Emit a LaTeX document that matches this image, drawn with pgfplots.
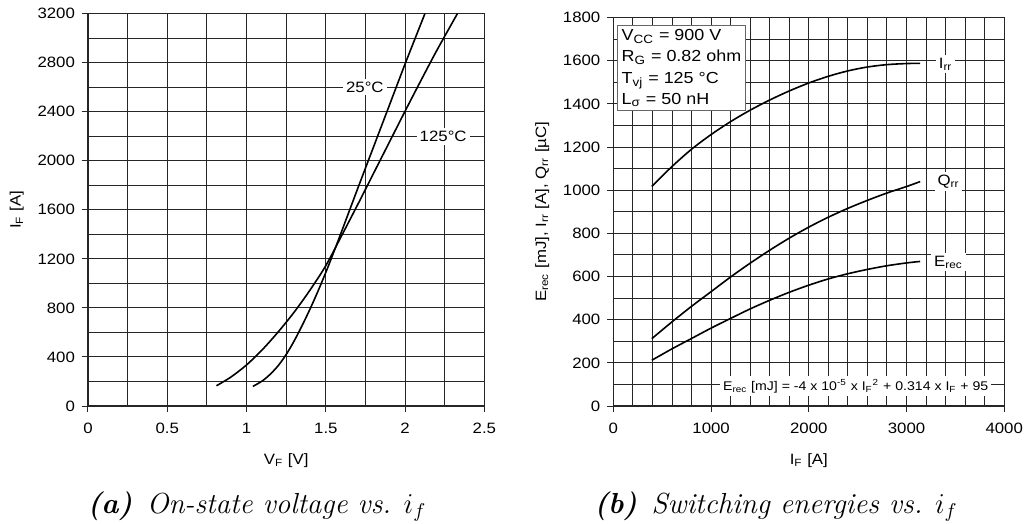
\documentclass[border=0pt]{standalone}
\usepackage{fontspec}
\usepackage{pgfplots}
\pgfplotsset{compat=1.18}
\newfontfamily\arial[FakeStretch=1.12]{Liberation Sans}
\newcommand{\sub}[1]{\textsubscript{#1}}
\newcommand{\sups}[1]{\textsuperscript{#1}}

% shared datasheet look: dense dark grid, outside ticks, Arial-like text
\pgfplotsset{
  datasheet/.style={
    scale only axis,
    tick align=outside, tick pos=left,
    major tick length=3pt, minor tick length=0pt,
    grid=both,
    major grid style={black!85, line width=0.5pt},
    minor grid style={black!85, line width=0.5pt},
    axis line style={black!85, line width=0.7pt},
    tick style={black!85, line width=0.5pt},
    ticklabel style={font=\arial\fontsize{7.5}{9}\selectfont},
    xticklabel style={yshift=-2pt},
    label style={font=\arial\fontsize{7.5}{9}\selectfont},
    xlabel style={yshift=-3pt},
    /pgf/number format/assume math mode=true,
    /pgf/number format/1000 sep={},
  },
  curve/.style={black, line width=0.8pt, smooth, mark=none},
}
\tikzset{lbl/.style={fill=white, inner sep=1.5pt, font=\arial\fontsize{7.5}{9}\selectfont}}

\begin{document}
\begin{tikzpicture}

% (a) forward characteristic
\begin{axis}[datasheet,
  at={(0pt,0pt)}, anchor=south west,
  width=198.2pt, height=196.2pt,
  xmin=0, xmax=2.5, ymin=0, ymax=3200,
  xtick={0,0.5,1,1.5,2,2.5},
  minor xtick={0.25,0.75,1.25,1.75,2.25},
  ytick={0,400,800,1200,1600,2000,2400,2800,3200},
  minor ytick={200,600,1000,1400,1800,2200,2600,3000},
  xlabel={V\sub{F} [V]}, ylabel={I\sub{F} [A]},
]
% 25 C
\addplot[curve] coordinates {
  (1.04,160) (1.10,205) (1.15,260) (1.20,330) (1.25,420) (1.30,530)
  (1.35,655) (1.40,790) (1.45,935) (1.50,1090) (1.55,1255) (1.60,1425)
  (1.70,1770) (1.80,2110) (1.90,2450) (2.00,2790) (2.125,3200)
};
% 125 C
\addplot[curve] coordinates {
  (0.81,165) (0.90,235) (1.00,335) (1.10,460) (1.20,605) (1.30,765)
  (1.40,945) (1.50,1145) (1.60,1390) (1.70,1640) (1.80,1895) (1.90,2150)
  (2.00,2405) (2.10,2655) (2.20,2900) (2.33,3200)
};
\node[lbl] at (axis cs:1.746,2600) {25°C};
\node[lbl] at (axis cs:2.24,2200) {125°C};
\end{axis}

% (b) reverse recovery vs forward current
\begin{axis}[datasheet,
  at={(262.7pt,0pt)}, anchor=south west,
  width=195.4pt, height=194.2pt,
  xmin=0, xmax=4000, ymin=0, ymax=1800,
  xtick={0,1000,2000,3000,4000}, minor x tick num=4,
  ytick={0,200,400,600,800,1000,1200,1400,1600,1800}, minor y tick num=1,
  xlabel={I\sub{F} [A]},
  ylabel={E\sub{rec} [mJ], I\sub{rr} [A], Q\sub{rr} [µC]},
]
% Irr
\addplot[curve] coordinates {
  (393,1018) (600,1110) (800,1190) (1000,1258) (1200,1318) (1400,1371)
  (1600,1418) (1800,1460) (2000,1497) (2200,1528) (2400,1553) (2600,1571)
  (2800,1582) (3000,1587) (3140,1588)
};
% Qrr
\addplot[curve] coordinates {
  (393,312) (600,390) (800,462) (1000,530) (1200,598) (1400,662) (1600,722)
  (1800,778) (2000,829) (2200,875) (2400,916) (2600,953) (2800,987)
  (3000,1017) (3140,1040)
};
% Erec
\addplot[curve] coordinates {
  (393,212) (600,265) (800,313) (1000,361) (1200,406) (1400,450) (1600,490)
  (1800,527) (2000,560) (2200,589) (2400,613) (2600,633) (2800,650)
  (3000,663) (3140,670)
};
\node[lbl] at (axis cs:3400,1585) {I\sub{rr}};
\node[lbl] at (axis cs:3430,1040) {Q\sub{rr}};
\node[lbl] at (axis cs:3430,667) {E\sub{rec}};
\node[draw=black!60, fill=white, anchor=north west, align=left, inner sep=2pt,
  font=\arial\fontsize{8}{10.6}\selectfont] at (axis cs:40,1765)
  {V\sub{CC} = 900 V\\R\sub{G} = 0.82 ohm\\T\sub{vj} = 125 °C\\L\sub{σ} = 50 nH};
\node[fill=white, inner sep=1.5pt, font=\arial\fontsize{6.3}{8}\selectfont]
  at (axis cs:2480,92)
  {E\sub{rec} [mJ] = -4 x 10\sups{-5} x I\sub{F}\sups{2} + 0.314 x I\sub{F} + 95};
\end{axis}

% sub-captions
\node[anchor=base] at (84.5pt,-53.5pt)
  {\fontsize{14.5}{17}\selectfont\textbf{\textit{(a)}}\hspace{0.5em}\textit{On-state voltage vs.} $i_f$};
\node[anchor=base] at (344pt,-53.5pt)
  {\fontsize{14.5}{17}\selectfont\textbf{\textit{(b)}}\hspace{0.5em}\textit{Switching energies vs.} $i_f$};

\pgfresetboundingbox
\path[use as bounding box] (-44pt,-59pt) rectangle (469.5pt,203pt);
\end{tikzpicture}
\end{document}
